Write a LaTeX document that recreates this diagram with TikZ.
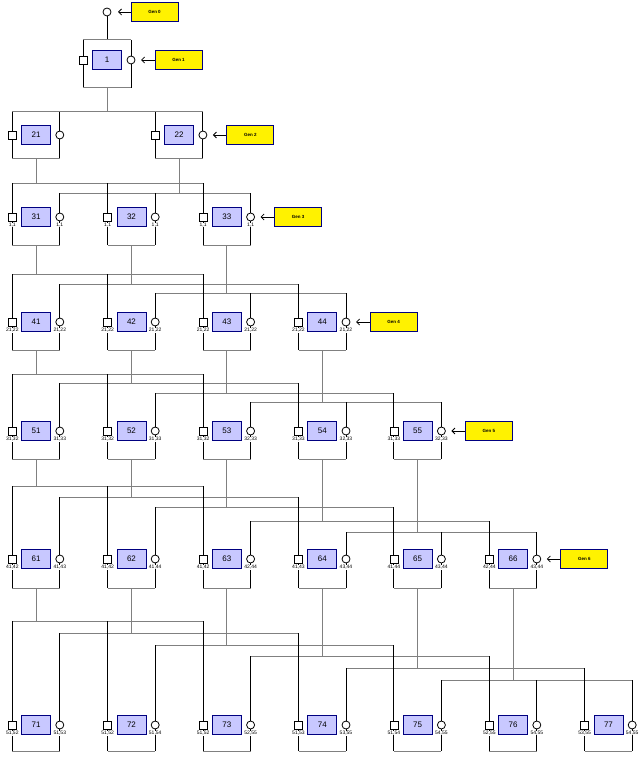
\documentclass[tikz,border=0pt]{standalone}
\usepackage{fontspec}
\setmainfont{Liberation Sans}
\usetikzlibrary{arrows.meta}
\pgfdeclarelayer{bg}
\pgfsetlayers{bg,main}
\definecolor{boxblue}{RGB}{200,200,255}
\definecolor{boxnavy}{RGB}{0,0,128}
\definecolor{linegray}{RGB}{128,128,128}
\tikzset{
 hline/.style={draw=linegray, line width=1pt},
 vline/.style={draw=black, line width=1pt},
 sqport/.style={draw=black, fill=white, minimum size=8pt, inner sep=0pt, line width=0.8pt},
 ciport/.style={draw=black, fill=white, circle, minimum size=8pt, inner sep=0pt, line width=0.8pt},
 idbox/.style={draw=boxnavy, fill=boxblue, minimum width=29pt, minimum height=19pt, inner sep=0pt, font=\fontsize{8}{9}\selectfont, line width=0.9pt},
 genbox/.style={draw=boxnavy, fill=yellow, minimum width=47pt, minimum height=19pt, inner sep=0pt, font=\bfseries\fontsize{4.5}{5}\selectfont, line width=0.9pt},
 genarrow/.style={-{Straight Barb[length=3pt,width=6pt]}, line width=0.8pt},
 tinylabel/.style={font=\fontsize{5}{5}\selectfont, inner sep=0.3pt, fill=white}
}
\newcommand\famlevel[4]{%
 \foreach \k in {1,...,#1} {
   \pgfmathsetmacro\sx{12.3+95.4*(\k-1)}
   \pgfmathtruncatemacro\jS{max(1,\k-2)}
   \pgfmathtruncatemacro\jC{min(\k+1,#1-1)}
   \pgfmathtruncatemacro\gm{#1-2}
   \pgfmathtruncatemacro\aS{max(1,\jS-2)}
   \pgfmathtruncatemacro\bS{min(\jS+1,\gm)}
   \pgfmathtruncatemacro\aC{max(1,\jC-2)}
   \pgfmathtruncatemacro\bC{min(\jC+1,\gm)}
   \ifnum#1=3 \def\tlS{1,1}\def\tlC{1,1}\else\edef\tlS{\gm\aS,\gm\bS}\edef\tlC{\gm\aC,\gm\bC}\fi
   \node[sqport] (s#1-\k) at (\sx,#3) {};
   \node[ciport] (c#1-\k) at (\sx+47.5,#3) {};
   \node[idbox] (b#1-\k) at (\sx+23.75,#3) {#1\k};
   \coordinate (f#1-\k) at (\sx+23.75,#4);
   \node[tinylabel, anchor=north] (ls#1-\k) at ([yshift=-1.2pt]s#1-\k.south) {\tlS};
   \node[tinylabel, anchor=north] (lc#1-\k) at ([yshift=-1.2pt]c#1-\k.south) {\tlC};
 }
 \pgfmathtruncatemacro\np{#1-1}
 \foreach \j in {1,...,\np} {
   \pgfmathsetmacro\Ly{{#2}[\j-1]}
   \coordinate (ly#1-\j) at (0,\Ly);
   \coordinate (j#1-\j) at (f\np-\j |- ly#1-\j);
 }
 \begin{pgfonlayer}{bg}
 \foreach \j in {1,...,\np} {
   \draw[hline] (f\np-\j) -- (j#1-\j);
   \ifnum\j=1 \draw[hline] (s#1-1 |- j#1-1) -- (s#1-3 |- j#1-1);
   \else\ifnum\j=\np \pgfmathtruncatemacro\ka{#1-2}\draw[hline] (c#1-\ka |- j#1-\j) -- (c#1-#1 |- j#1-\j);
   \else\pgfmathtruncatemacro\ka{\j-1}\pgfmathtruncatemacro\kb{\j+2}\draw[hline] (c#1-\ka |- j#1-\j) -- (s#1-\kb |- j#1-\j);
   \fi\fi
 }
 \foreach \k in {1,...,#1} {
   \pgfmathtruncatemacro\jS{max(1,\k-2)}
   \pgfmathtruncatemacro\jC{min(\k+1,#1-1)}
   \draw[vline] (s#1-\k |- j#1-\jS) -- (s#1-\k |- f#1-\k);
   \draw[vline] (c#1-\k |- j#1-\jC) -- (c#1-\k |- f#1-\k);
   \draw[hline] (s#1-\k |- f#1-\k) -- (c#1-\k |- f#1-\k);
 }
 \end{pgfonlayer}
}
\begin{document}
\begin{tikzpicture}[x=1pt,y=-1pt]
\useasboundingbox (0,0) rectangle (643,762);
\begin{pgfonlayer}{bg}
\fill[white] (0,0) rectangle (643,762);
\end{pgfonlayer}
% generation 0 and 1
\node[ciport] (c0) at (107,12) {};
\node[sqport] (s1-1) at (83,60) {};
\node[ciport] (c1-1) at (131,60) {};
\node[idbox] (b1-1) at (107,60) {1};
\coordinate (top1) at (107,40);
\coordinate (f1-1) at (107,88);
\begin{pgfonlayer}{bg}
\draw[vline] (c0) -- (top1);
\draw[hline] (s1-1 |- top1) -- (c1-1 |- top1);
\draw[vline] (s1-1 |- top1) -- (s1-1 |- f1-1);
\draw[vline] (c1-1 |- top1) -- (c1-1 |- f1-1);
\draw[hline] (s1-1 |- f1-1) -- (c1-1 |- f1-1);
\end{pgfonlayer}
% generation 2
\foreach \k/\sx/\lab in {1/12.3/21, 2/155.4/22} {
 \node[sqport] (s2-\k) at (\sx,135) {};
 \node[ciport] (c2-\k) at (\sx+47.5,135) {};
 \node[idbox] (b2-\k) at (\sx+23.75,135) {\lab};
 \coordinate (f2-\k) at (\sx+23.75,159);
}
\coordinate (j2-1) at (107,112);
\begin{pgfonlayer}{bg}
\draw[hline] (f1-1) -- (j2-1);
\draw[hline] (s2-1 |- j2-1) -- (c2-2 |- j2-1);
\foreach \k in {1,2} {
 \draw[vline] (s2-\k |- j2-1) -- (s2-\k |- f2-\k);
 \draw[vline] (c2-\k |- j2-1) -- (c2-\k |- f2-\k);
 \draw[hline] (s2-\k |- f2-\k) -- (c2-\k |- f2-\k);
}
\end{pgfonlayer}
% generations 3 to 7
\famlevel{3}{183,193}{217}{245}
\famlevel{4}{274,284,293}{322}{350}
\famlevel{5}{374,383,393,402}{431}{459}
\famlevel{6}{486,497,507,521,532}{559}{588}
\famlevel{7}{621,633,645,656,668,680}{725}{751}
% generation labels
\node[genbox] (g0) at ([xshift=47.5pt]c0.center) {Gen 0};
\coordinate (t0) at ([xshift=11pt]c0.center);
\draw[genarrow] (g0) -- (t0);
\foreach \g/\cn in {1/c1-1, 2/c2-2, 3/c3-3, 4/c4-4, 5/c5-5, 6/c6-6} {
 \node[genbox] (g\g) at ([xshift=47.5pt]\cn.center) {Gen \g};
 \coordinate (t\g) at ([xshift=10pt]\cn.center);
 \draw[genarrow] (g\g) -- (t\g);
}
\end{tikzpicture}
\end{document}
